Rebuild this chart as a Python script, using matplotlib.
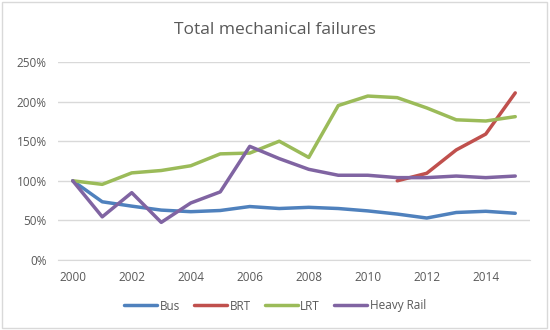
import numpy as np
import matplotlib.pyplot as plt
from matplotlib.ticker import PercentFormatter

years = list(range(2000, 2016))
bus = [100, 73.5, 68, 63, 61, 62.5, 67.5, 65, 66.5, 65, 62, 58, 53, 60, 61.5, 59]
brt = [None] * 11 + [100, 109.5, 139, 159, 211]
lrt = [100, 95.5, 110, 113, 119, 134, 135, 150, 129.5, 195, 207, 205, 192, 177, 175.5, 181]
heavy_rail = [100, 54.5, 85, 47.5, 72, 86, 143.5, 128, 114.5, 107, 107, 104, 104, 106, 104, 106]

series = [("Bus", bus, "#4F81BD"), ("BRT", brt, "#C0504D"),
          ("LRT", lrt, "#9BBB59"), ("Heavy Rail", heavy_rail, "#8064A2")]

plt.rcParams['font.family'] = ['Open Sans', 'DejaVu Sans']

fig = plt.figure(figsize=(5.5, 3.3), dpi=100)
fig.patches.append(plt.Rectangle((0.003, 0.005), 0.992, 0.99, transform=fig.transFigure,
                                 fill=False, edgecolor="#D9D9D9", linewidth=1))
ax = fig.add_axes([58 / 550, 1 - 260 / 330, 472 / 550, 198 / 330])

for name, vals, color in series:
    y = np.array([np.nan if v is None else v for v in vals], dtype=float)
    ax.plot(years, y, color=color, linewidth=2.5, label=name, solid_capstyle="round")

ax.set_xlim(1999.5, 2015.5)
ax.set_ylim(0, 250)
ax.set_xticks(years[::2])
ax.set_yticks(range(0, 251, 50))
ax.yaxis.set_major_formatter(PercentFormatter(decimals=0))
ax.grid(axis="y", color="#D9D9D9", linewidth=1)
ax.set_axisbelow(True)
for s in ["top", "right", "left"]:
    ax.spines[s].set_visible(False)
ax.spines["bottom"].set_color("#D9D9D9")
ax.tick_params(length=0, labelsize=8.5, colors="#595959", pad=8)

fig.text(0.5, 1 - 30 / 330, "Total mechanical failures", ha="center", va="center",
         fontsize=12.5, color="#595959")
fig.legend(loc="center", bbox_to_anchor=(0.5, 1 - 306 / 330), ncol=4, frameon=False,
           fontsize=8.5, labelcolor="#595959", handlelength=2.8, handletextpad=0.2,
           columnspacing=1.2)

fig.savefig("out.png", dpi=100)
